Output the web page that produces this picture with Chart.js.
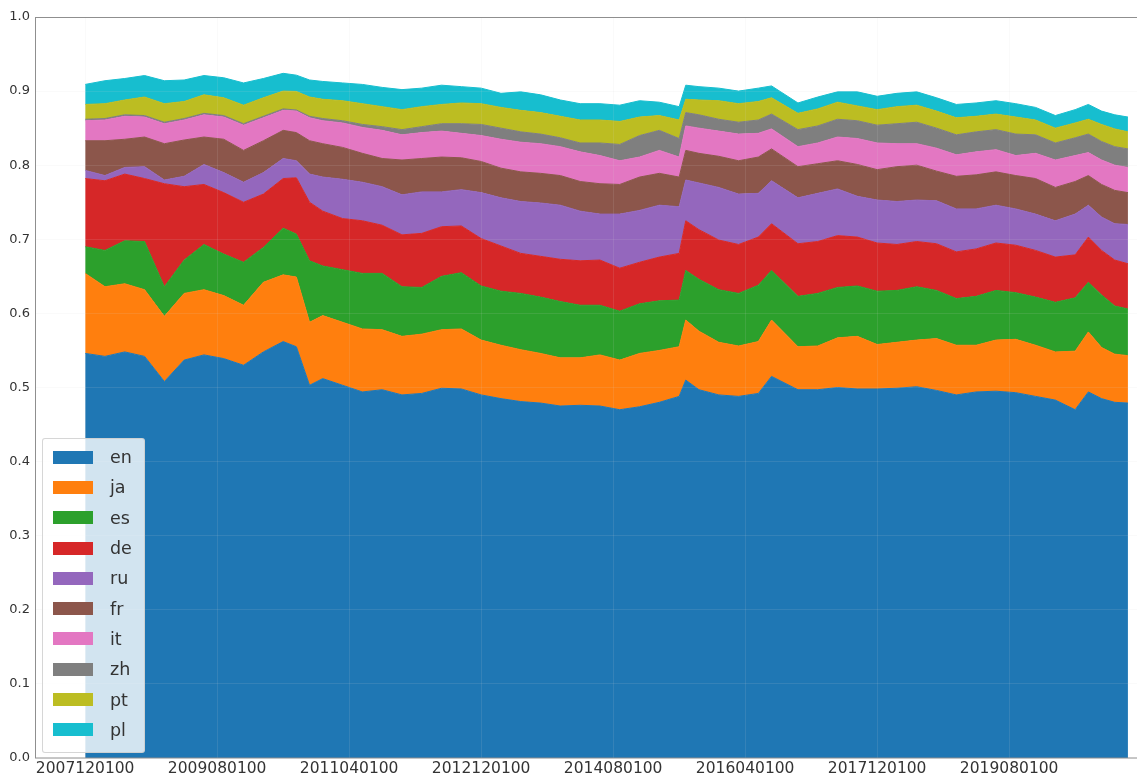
<!DOCTYPE html>
<html>
<head>
<meta charset="utf-8">
<script src="https://cdn.jsdelivr.net/npm/chart.js@4/dist/chart.umd.min.js"></script>
<style>
    body { margin: 0; background: #fff; }
    .chart-wrap { position: relative; width: 1137px; height: 773px; }
    .legend {
        position: absolute; left: 42px; top: 438px; width: 103px; height: 315px;
        box-sizing: border-box; padding-top: 3px;
        background: rgba(255, 255, 255, 0.8); border: 1px solid rgba(204, 204, 204, 0.8); border-radius: 3px;
    }
    .legend-item { display: flex; align-items: center; height: 30.3px; }
    .legend-swatch { width: 40px; height: 13px; margin-left: 10px; margin-right: 17px; }
    .legend-label { font: 17.5px 'DejaVu Sans', sans-serif; color: #333; }
</style>
</head>
<body>
<div class="chart-wrap">
    <canvas id="langChart" width="1137" height="773"></canvas>
    <div id="langLegend" class="legend"></div>
</div>
<script>
// sampled months (YYYYMMDDHH, as on the axis)
const months = [
    '2007120100', '2008030100', '2008060100', '2008090100', '2008120100', '2009030100', '2009060100', '2009090100', '2009120100', '2010030100',
    '2010060100', '2010080100', '2010100100', '2010120100', '2011030100', '2011060100', '2011090100', '2011120100', '2012030100', '2012060100',
    '2012090100', '2012120100', '2013030100', '2013060100', '2013090100', '2013120100', '2014030100', '2014060100', '2014090100', '2014120100',
    '2015030100', '2015060100', '2015070100', '2015090100', '2015120100', '2016030100', '2016060100', '2016080100', '2016120100', '2017030100',
    '2017060100', '2017090100', '2017120100', '2018030100', '2018060100', '2018090100', '2018120100', '2019030100', '2019060100', '2019090100',
    '2019120100', '2020030100', '2020060100', '2020080100', '2020100100', '2020120100', '2021020100'
];

const xTickLabels = ['2007120100', '2009080100', '2011040100', '2012120100', '2014080100', '2016040100', '2017120100', '2019080100'];

const languages = ['en', 'ja', 'es', 'de', 'ru', 'fr', 'it', 'zh', 'pt', 'pl'];
const colors = ['#1f77b4', '#ff7f0e', '#2ca02c', '#d62728', '#9467bd', '#8c564b', '#e377c2', '#7f7f7f', '#bcbd22', '#17becf'];

const enShare = [
    .546, .542, .548, .542, .508, .537, .544, .539, .530, .548,
    .562, .555, .503, .512, .503, .494, .497, .490, .492, .499,
    .498, .490, .485, .481, .479, .475, .476, .475, .470, .474,
    .480, .488, .510, .497, .490, .488, .492, .515, .497, .497,
    .500, .498, .498, .499, .501, .496, .490, .494, .495, .493,
    .488, .483, .470, .494, .485, .480, .479
];
const jaShare = [
    .108, .094, .092, .090, .088, .090, .088, .085, .081, .094,
    .090, .094, .085, .085, .085, .085, .081, .079, .080, .079,
    .081, .074, .072, .070, .067, .065, .064, .069, .067, .072,
    .070, .067, .081, .079, .071, .068, .070, .076, .058, .059,
    .067, .071, .060, .062, .063, .070, .067, .063, .069, .072,
    .069, .065, .079, .081, .069, .065, .064
];
const esShare = [
    .036, .049, .058, .065, .040, .045, .061, .056, .058, .047,
    .063, .058, .083, .067, .071, .075, .076, .067, .063, .072,
    .076, .073, .073, .076, .076, .076, .071, .067, .066, .067,
    .067, .063, .067, .070, .071, .071, .076, .067, .068, .071,
    .068, .068, .072, .070, .072, .065, .063, .066, .067, .063,
    .065, .067, .072, .067, .071, .065, .063
];
const deShare = [
    .092, .094, .090, .085, .139, .099, .081, .083, .081, .072,
    .067, .076, .079, .074, .069, .071, .065, .070, .073, .067,
    .063, .064, .061, .054, .055, .057, .060, .061, .058, .056,
    .059, .063, .067, .067, .067, .066, .065, .063, .071, .070,
    .070, .066, .065, .062, .061, .063, .063, .064, .064, .064,
    .063, .061, .058, .061, .060, .062, .061
];
const ruShare = [
    .011, .007, .009, .016, .005, .014, .027, .027, .027, .029,
    .027, .023, .038, .046, .053, .052, .052, .054, .056, .047,
    .049, .062, .065, .070, .072, .073, .067, .062, .073, .070,
    .070, .063, .055, .063, .071, .068, .059, .058, .062, .065,
    .063, .055, .058, .058, .056, .058, .058, .054, .051, .049,
    .049, .049, .055, .043, .045, .049, .053
];
const frShare = [
    .040, .047, .038, .040, .049, .049, .037, .045, .043, .043,
    .038, .038, .045, .045, .043, .039, .038, .047, .045, .047,
    .043, .042, .040, .040, .040, .040, .040, .041, .040, .045,
    .043, .040, .040, .040, .042, .045, .049, .043, .042, .040,
    .038, .043, .041, .047, .047, .040, .044, .046, .045, .045,
    .048, .045, .044, .040, .044, .045, .043
];
const itShare = [
    .027, .028, .031, .027, .027, .027, .030, .030, .034, .031,
    .027, .029, .031, .031, .033, .035, .038, .034, .035, .035,
    .033, .035, .039, .040, .040, .039, .040, .038, .032, .027,
    .031, .027, .033, .034, .034, .036, .032, .027, .027, .028,
    .032, .035, .036, .031, .029, .031, .029, .031, .030, .027,
    .034, .037, .035, .031, .033, .034, .034
];
const zhShare = [
    .002, .002, .002, .002, .002, .002, .002, .002, .002, .002,
    .002, .0015, .002, .003, .003, .004, .005, .007, .008, .010,
    .013, .015, .015, .014, .013, .012, .012, .017, .022, .029,
    .027, .025, .018, .018, .016, .016, .018, .020, .023, .023,
    .024, .024, .024, .027, .029, .027, .027, .027, .027, .029,
    .025, .023, .024, .025, .025, .025, .025
];
const ptShare = [
    .020, .020, .020, .025, .025, .023, .025, .024, .025, .025,
    .024, .025, .026, .026, .027, .028, .027, .027, .027, .026,
    .028, .028, .028, .029, .029, .029, .031, .031, .031, .025,
    .020, .025, .018, .020, .025, .025, .025, .022, .022, .023,
    .023, .020, .021, .023, .023, .023, .023, .021, .021, .023,
    .020, .020, .020, .020, .023, .024, .023
];
const plShare = [
    .027, .031, .029, .029, .031, .029, .026, .027, .030, .026,
    .024, .022, .023, .024, .024, .026, .026, .027, .025, .026,
    .022, .021, .019, .025, .024, .022, .022, .022, .022, .022,
    .018, .018, .019, .018, .017, .017, .018, .016, .014, .016,
    .014, .019, .018, .018, .018, .018, .018, .018, .018, .018,
    .017, .017, .018, .020, .018, .019, .020
];

const shares = [enShare, jaShare, esShare, deShare, ruShare, frShare, itShare, zhShare, ptShare, plShare];

// months counted from 2007-12
function monthIndex(code) {
    const year = Number(code.slice(0, 4));
    const month = Number(code.slice(4, 6));
    return (year - 2007) * 12 + (month - 12);
}

const frame = {
    id: 'frame',
    afterDraw: function(chart) {
        const area = chart.chartArea;
        const ctx = chart.ctx;
        ctx.save();
        ctx.strokeStyle = '#8f8f8f';
        ctx.lineWidth = 1;
        ctx.strokeRect(area.left + 0.5, area.top + 0.5, area.right - area.left, area.bottom - area.top - 0.5);
        ctx.restore();
    }
};

document.addEventListener('DOMContentLoaded', function() {
    const datasets = languages.map(function(lang, i) {
        return {
            label: lang,
            data: months.map(function(code, j) {
                return { x: monthIndex(code), y: shares[i][j] };
            }),
            backgroundColor: colors[i],
            borderColor: colors[i],
            borderWidth: 1,
            pointRadius: 0,
            tension: 0,
            fill: i === 0 ? 'origin' : '-1'
        };
    });

    const chart = new Chart(document.getElementById('langChart'), {
        type: 'line',
        data: { datasets: datasets },
        options: {
            responsive: false,
            animation: false,
            layout: { padding: { top: 17, left: 0, right: 0, bottom: 0 } },
            plugins: {
                legend: { display: false },
                tooltip: { enabled: false }
            },
            scales: {
                x: {
                    type: 'linear',
                    min: -7.6,
                    max: 159.37,
                    border: { display: false },
                    grid: { color: 'rgba(215, 215, 215, 0.12)', z: 1, drawTicks: false },
                    ticks: {
                        stepSize: 20,
                        includeBounds: false,
                        autoSkip: false,
                        maxRotation: 0,
                        padding: 2,
                        color: '#333',
                        font: { family: 'DejaVu Sans', size: 15.5 },
                        callback: function(value) {
                            return xTickLabels[value / 20] || '';
                        }
                    },
                    afterFit: function(scale) { scale.height = 15; }
                },
                y: {
                    stacked: true,
                    min: 0,
                    max: 1,
                    border: { display: false },
                    grid: { color: 'rgba(215, 215, 215, 0.12)', z: 1, drawTicks: false },
                    ticks: {
                        stepSize: 0.1,
                        padding: 5,
                        color: '#333',
                        font: { family: 'DejaVu Sans', size: 13 },
                        callback: function(value) {
                            return Number(value).toFixed(1);
                        }
                    },
                    afterFit: function(scale) { scale.width = 35; }
                }
            }
        },
        plugins: [frame]
    });

    const legendBox = document.getElementById('langLegend');
    chart.data.datasets.forEach(function(ds) {
        const item = document.createElement('div');
        item.className = 'legend-item';
        item.innerHTML = '<span class="legend-swatch" style="background:' + ds.backgroundColor + '"></span>' +
            '<span class="legend-label">' + ds.label + '</span>';
        legendBox.appendChild(item);
    });
});
</script>
</body>
</html>
